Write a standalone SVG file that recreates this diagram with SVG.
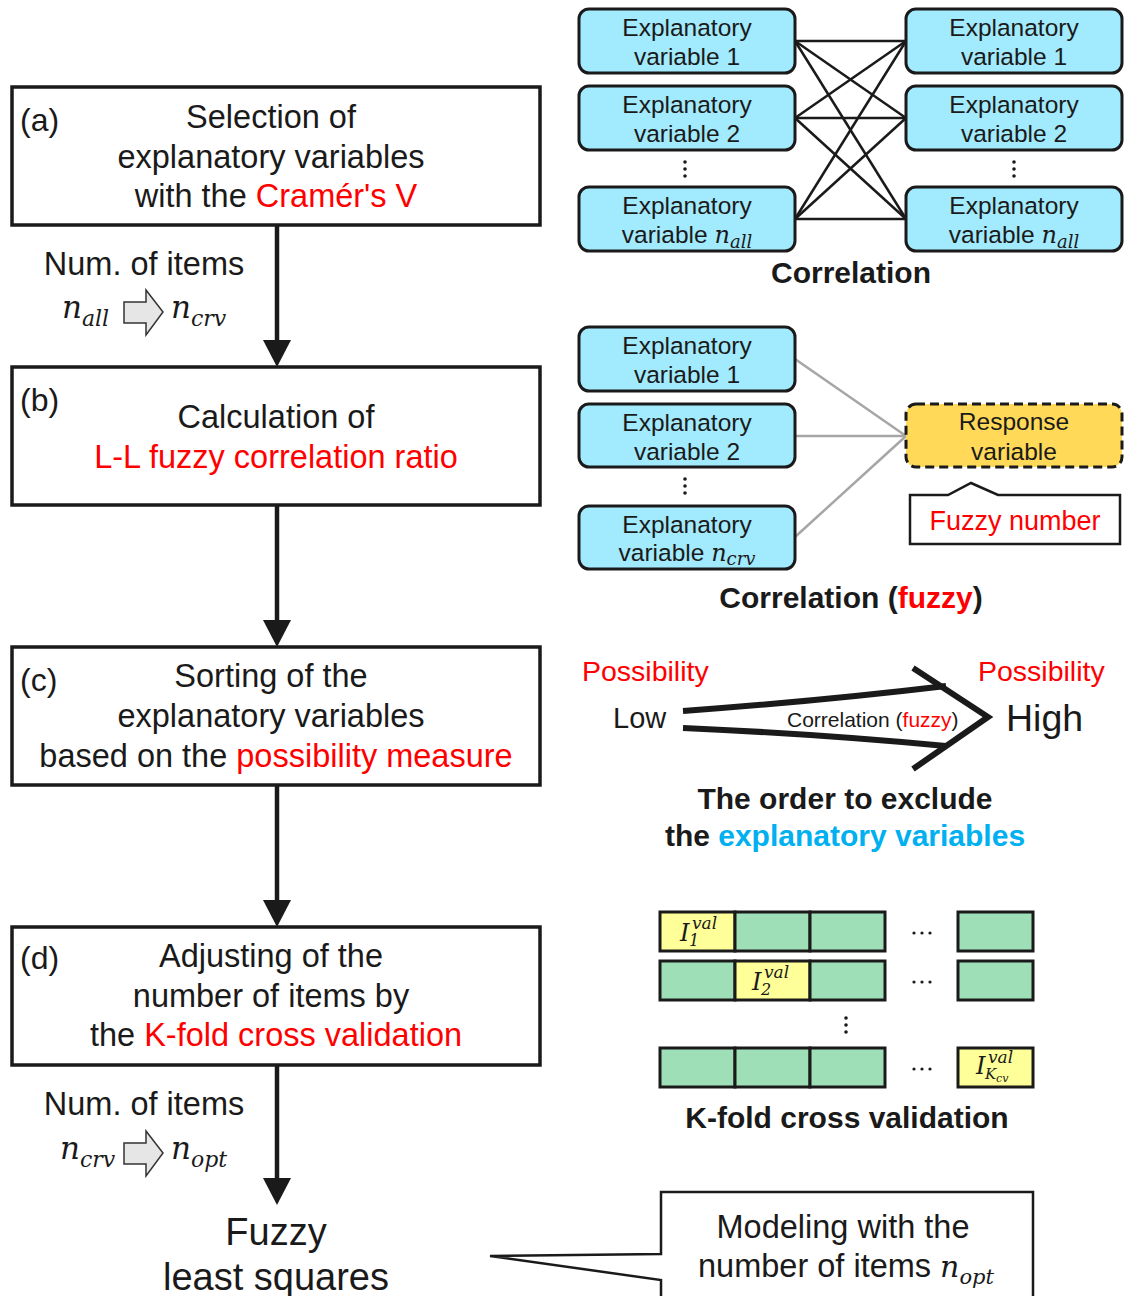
<svg xmlns="http://www.w3.org/2000/svg" width="1129" height="1296" viewBox="0 0 1129 1296">
<defs>
<style>
.box{fill:#ffffff;stroke:#1a1a1a;stroke-width:3.5}
.t{font-family:"Liberation Sans",Arial,sans-serif;fill:#1a1a1a}
.b{font-weight:bold}
.m{font-family:"DejaVu Serif",serif;font-style:italic}
.red{fill:#ff0000}
.blue{fill:#00b0f0}
.ev{fill:#a2eafd;stroke:#1a1a1a;stroke-width:3}
.ev-t{font-family:"Liberation Sans",Arial,sans-serif;fill:#1a1a1a;font-size:24.5px;text-anchor:middle}
.flow{stroke:#1a1a1a;stroke-width:4.5;fill:none}
.cross{stroke:#1a1a1a;stroke-width:2.5}
.gray{stroke:#a6a6a6;stroke-width:2.5}
.blk{fill:#e6e6e6;stroke:#333333;stroke-width:1.5}
.dot{fill:#1a1a1a}
.cellg{fill:#9fdfb8;stroke:#1a1a1a;stroke-width:3}
.celly{fill:#ffff99;stroke:#1a1a1a;stroke-width:3}
.thick{stroke:#1a1a1a;stroke-width:6;fill:none}
</style>
<marker id="ah" markerUnits="userSpaceOnUse" markerWidth="28" markerHeight="28" refX="0" refY="14" orient="auto" viewBox="0 0 28 28">
<path d="M0,0 L27,14 L0,28 Z" fill="#1a1a1a"/>
</marker>
</defs>
<rect width="1129" height="1296" fill="#ffffff"/>

<!-- Left flow nodes -->
<g id="step-a">
<rect class="box" x="12" y="87" width="528" height="138"/>
<text class="t" x="20" y="131" font-size="32">(a)</text>
<text class="t" x="271" y="128" font-size="32.5" text-anchor="middle">Selection of</text>
<text class="t" x="271" y="168" font-size="32.5" text-anchor="middle">explanatory variables</text>
<text class="t" x="276" y="207" font-size="32.5" text-anchor="middle">with the <tspan class="red">Cramér's V</tspan></text>
</g>
<g id="step-b">
<rect class="box" x="12" y="367" width="528" height="138"/>
<text class="t" x="20" y="411" font-size="32">(b)</text>
<text class="t" x="276" y="428" font-size="32.5" text-anchor="middle">Calculation of</text>
<text class="t red" x="276" y="468" font-size="32.5" text-anchor="middle">L-L fuzzy correlation ratio</text>
</g>
<g id="step-c">
<rect class="box" x="12" y="647" width="528" height="138"/>
<text class="t" x="20" y="691" font-size="32">(c)</text>
<text class="t" x="271" y="687" font-size="32.5" text-anchor="middle">Sorting of the</text>
<text class="t" x="271" y="727" font-size="32.5" text-anchor="middle">explanatory variables</text>
<text class="t" x="276" y="767" font-size="32.5" text-anchor="middle">based on the <tspan class="red">possibility measure</tspan></text>
</g>
<g id="step-d">
<rect class="box" x="12" y="927" width="528" height="138"/>
<text class="t" x="20" y="969" font-size="32">(d)</text>
<text class="t" x="271" y="967" font-size="32.5" text-anchor="middle">Adjusting of the</text>
<text class="t" x="271" y="1007" font-size="32.5" text-anchor="middle">number of items by</text>
<text class="t" x="276" y="1046" font-size="32.5" text-anchor="middle">the <tspan class="red">K-fold cross validation</tspan></text>
</g>
<g id="items-1">
<text class="t" x="144" y="275" font-size="32.5" text-anchor="middle">Num. of items</text>
<text class="m" x="62" y="318" font-size="31" fill="#1a1a1a">n<tspan font-size="22" dy="8">all</tspan></text>
<path class="blk" d="M124,302 H146 V290 L163,312 L146,335 V323 H124 Z"/>
<text class="m" x="171" y="318" font-size="31" fill="#1a1a1a">n<tspan font-size="22" dy="8">crv</tspan></text>
</g>
<g id="items-2">
<text class="t" x="144" y="1115" font-size="32.5" text-anchor="middle">Num. of items</text>
<text class="m" x="60" y="1159" font-size="31" fill="#1a1a1a">n<tspan font-size="22" dy="8">crv</tspan></text>
<path class="blk" d="M124,1143 H146 V1131 L163,1153 L146,1176 V1164 H124 Z"/>
<text class="m" x="171" y="1159" font-size="31" fill="#1a1a1a">n<tspan font-size="22" dy="8">opt</tspan></text>
</g>
<g id="fuzzy-ls">
<text class="t" x="276" y="1245" font-size="38" text-anchor="middle">Fuzzy</text>
<text class="t" x="276" y="1290" font-size="38" text-anchor="middle">least squares</text>
</g>
<g id="modeling-callout">
<path d="M661,1300 V1280 L490,1256 L661,1254 V1192 H1033 V1300" fill="#ffffff" stroke="#1a1a1a" stroke-width="2.5"/>
<text class="t" x="843" y="1238" font-size="32.5" text-anchor="middle">Modeling with the</text>
<text class="t" x="846" y="1277" font-size="32.5" text-anchor="middle">number of items <tspan class="m" font-size="30">n</tspan><tspan class="m" font-size="21" dy="7">opt</tspan></text>
</g>

<!-- Flow connectors -->
<g id="connectors">
<line class="flow" x1="277" y1="225" x2="277" y2="340" marker-end="url(#ah)"/>
<line class="flow" x1="277" y1="505" x2="277" y2="620" marker-end="url(#ah)"/>
<line class="flow" x1="277" y1="785" x2="277" y2="900" marker-end="url(#ah)"/>
<line class="flow" x1="277" y1="1065" x2="277" y2="1178" marker-end="url(#ah)"/>
<!-- correlation cross lines -->
<line class="cross" x1="795" y1="41" x2="906" y2="41"/>
<line class="cross" x1="795" y1="41" x2="906" y2="118"/>
<line class="cross" x1="795" y1="41" x2="906" y2="219"/>
<line class="cross" x1="795" y1="118" x2="906" y2="41"/>
<line class="cross" x1="795" y1="118" x2="906" y2="118"/>
<line class="cross" x1="795" y1="118" x2="906" y2="219"/>
<line class="cross" x1="795" y1="219" x2="906" y2="41"/>
<line class="cross" x1="795" y1="219" x2="906" y2="118"/>
<line class="cross" x1="795" y1="219" x2="906" y2="219"/>
<!-- fuzzy correlation lines -->
<line class="gray" x1="795" y1="359" x2="906" y2="436"/>
<line class="gray" x1="795" y1="436" x2="906" y2="436"/>
<line class="gray" x1="795" y1="537" x2="906" y2="436"/>
</g>

<!-- Correlation -->
<g id="corr-left-1"><rect class="ev" x="579" y="9" width="216" height="64" rx="10"/>
<text class="ev-t" x="687" y="36">Explanatory</text><text class="ev-t" x="687" y="65">variable 1</text></g>
<g id="corr-left-2"><rect class="ev" x="579" y="86" width="216" height="64" rx="10"/>
<text class="ev-t" x="687" y="113">Explanatory</text><text class="ev-t" x="687" y="142">variable 2</text></g>
<g id="corr-left-n"><rect class="ev" x="579" y="187" width="216" height="64" rx="10"/>
<text class="ev-t" x="687" y="214">Explanatory</text><text class="ev-t" x="687" y="243">variable <tspan class="m" font-size="24">n</tspan><tspan class="m" font-size="18" dy="5">all</tspan></text></g>
<g id="corr-right-1"><rect class="ev" x="906" y="9" width="216" height="64" rx="10"/>
<text class="ev-t" x="1014" y="36">Explanatory</text><text class="ev-t" x="1014" y="65">variable 1</text></g>
<g id="corr-right-2"><rect class="ev" x="906" y="86" width="216" height="64" rx="10"/>
<text class="ev-t" x="1014" y="113">Explanatory</text><text class="ev-t" x="1014" y="142">variable 2</text></g>
<g id="corr-right-n"><rect class="ev" x="906" y="187" width="216" height="64" rx="10"/>
<text class="ev-t" x="1014" y="214">Explanatory</text><text class="ev-t" x="1014" y="243">variable <tspan class="m" font-size="24">n</tspan><tspan class="m" font-size="18" dy="5">all</tspan></text></g>
<g id="corr-dots">
<circle class="dot" cx="685" cy="162" r="1.8"/><circle class="dot" cx="685" cy="169" r="1.8"/><circle class="dot" cx="685" cy="176" r="1.8"/>
<circle class="dot" cx="1014" cy="162" r="1.8"/><circle class="dot" cx="1014" cy="169" r="1.8"/><circle class="dot" cx="1014" cy="176" r="1.8"/>
</g>
<text class="t b" x="851" y="283" font-size="30" text-anchor="middle">Correlation</text>

<!-- Fuzzy correlation -->
<g id="fz-left-1"><rect class="ev" x="579" y="327" width="216" height="64" rx="10"/>
<text class="ev-t" x="687" y="354">Explanatory</text><text class="ev-t" x="687" y="383">variable 1</text></g>
<g id="fz-left-2"><rect class="ev" x="579" y="404" width="216" height="63" rx="10"/>
<text class="ev-t" x="687" y="431">Explanatory</text><text class="ev-t" x="687" y="460">variable 2</text></g>
<g id="fz-left-n"><rect class="ev" x="579" y="506" width="216" height="63" rx="10"/>
<text class="ev-t" x="687" y="533">Explanatory</text><text class="ev-t" x="687" y="561">variable <tspan class="m" font-size="24">n</tspan><tspan class="m" font-size="18" dy="4">crv</tspan></text></g>
<g id="fz-dots">
<circle class="dot" cx="685" cy="479" r="1.8"/><circle class="dot" cx="685" cy="486" r="1.8"/><circle class="dot" cx="685" cy="493" r="1.8"/>
</g>
<g id="response"><rect x="906" y="404" width="216" height="63" rx="10" fill="#ffd957" stroke="#1a1a1a" stroke-width="3" stroke-dasharray="9 5"/>
<text class="ev-t" x="1014" y="430">Response</text><text class="ev-t" x="1014" y="460">variable</text></g>
<g id="fuzzy-number">
<path d="M910,495 H948 L971,483 L998,495 H1120 V544 H910 Z" fill="#ffffff" stroke="#1a1a1a" stroke-width="2.5"/>
<text class="t red" x="1015" y="530" font-size="27" text-anchor="middle">Fuzzy number</text>
</g>
<text class="t b" x="851" y="608" font-size="30" text-anchor="middle">Correlation (<tspan class="red">fuzzy</tspan>)</text>

<!-- Possibility ordering -->
<g id="possibility">
<text class="t red" x="582" y="681" font-size="28.5">Possibility</text>
<text class="t red" x="978" y="681" font-size="28.5">Possibility</text>
<text class="t" x="613" y="728" font-size="29">Low</text>
<text class="t" x="1006" y="731" font-size="37.5">High</text>
<path class="thick" d="M683,711 Q820,701 946,686"/>
<path class="thick" d="M683,728 Q820,734 946,746"/>
<path class="thick" d="M913,668 L988,717 L913,769"/>
<text class="t" x="787" y="727" font-size="21">Correlation (<tspan class="red">fuzzy</tspan>)</text>
<text class="t b" x="845" y="809" font-size="30" text-anchor="middle">The order to exclude</text>
<text class="t b" x="845" y="846" font-size="30" text-anchor="middle">the <tspan class="blue">explanatory variables</tspan></text>
</g>

<!-- K-fold -->
<g id="kfold">
<rect class="celly" x="660" y="912" width="75" height="39"/>
<rect class="cellg" x="735" y="912" width="75" height="39"/>
<rect class="cellg" x="810" y="912" width="75" height="39"/>
<rect class="cellg" x="958" y="912" width="75" height="39"/>
<rect class="cellg" x="660" y="961" width="75" height="39"/>
<rect class="celly" x="735" y="961" width="75" height="39"/>
<rect class="cellg" x="810" y="961" width="75" height="39"/>
<rect class="cellg" x="958" y="961" width="75" height="39"/>
<rect class="cellg" x="660" y="1048" width="75" height="39"/>
<rect class="cellg" x="735" y="1048" width="75" height="39"/>
<rect class="cellg" x="810" y="1048" width="75" height="39"/>
<rect class="celly" x="958" y="1048" width="75" height="39"/>
<text class="m" fill="#1a1a1a"><tspan x="680" y="941" font-size="24">I</tspan><tspan x="692" y="929" font-size="17">val</tspan><tspan x="689" y="946" font-size="16">1</tspan></text>
<text class="m" fill="#1a1a1a"><tspan x="752" y="990" font-size="24">I</tspan><tspan x="764" y="978" font-size="17">val</tspan><tspan x="761" y="995" font-size="16">2</tspan></text>
<text class="m" fill="#1a1a1a"><tspan x="976" y="1074" font-size="24">I</tspan><tspan x="988" y="1063" font-size="17">val</tspan><tspan x="985" y="1079" font-size="15">K</tspan><tspan x="996" y="1082" font-size="11">cv</tspan></text>
<g class="dot">
<circle cx="914" cy="933" r="1.6"/><circle cx="922" cy="933" r="1.6"/><circle cx="930" cy="933" r="1.6"/>
<circle cx="914" cy="982" r="1.6"/><circle cx="922" cy="982" r="1.6"/><circle cx="930" cy="982" r="1.6"/>
<circle cx="914" cy="1069" r="1.6"/><circle cx="922" cy="1069" r="1.6"/><circle cx="930" cy="1069" r="1.6"/>
<circle cx="846" cy="1018" r="1.8"/><circle cx="846" cy="1025" r="1.8"/><circle cx="846" cy="1032" r="1.8"/>
</g>
<text class="t b" x="847" y="1128" font-size="30" text-anchor="middle">K-fold cross validation</text>
</g>
</svg>
